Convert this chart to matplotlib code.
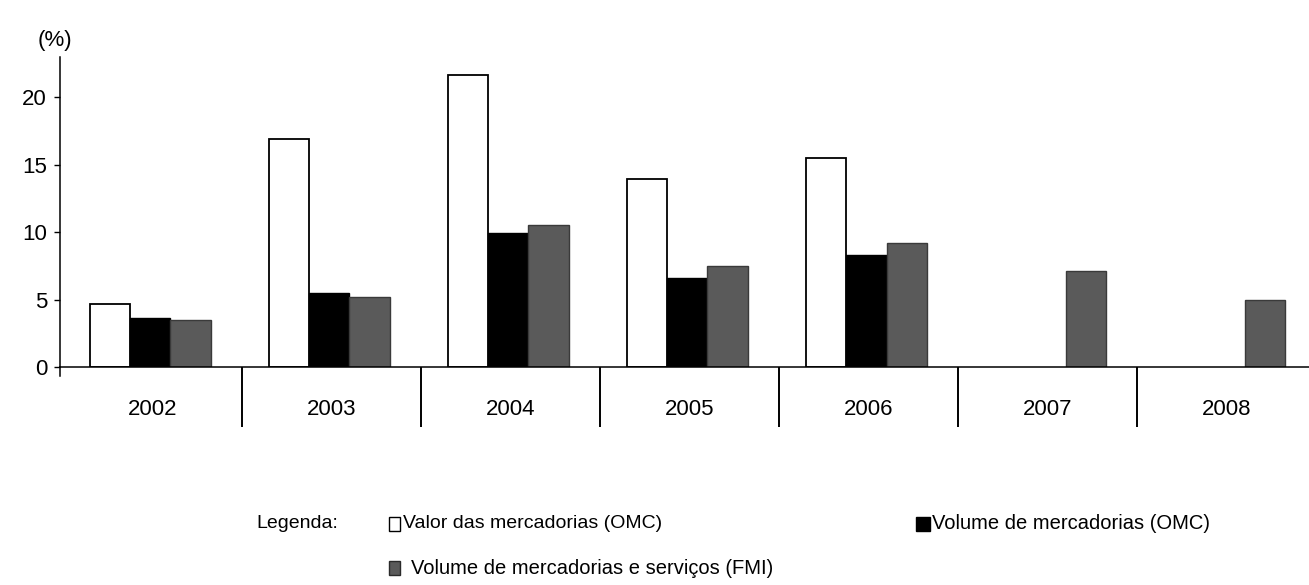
import matplotlib.pyplot as plt
from matplotlib.patches import Rectangle
import numpy as np

# Annual growth of world trade (%)
anos = ['2002', '2003', '2004', '2005', '2006', '2007', '2008']
valor_omc = [4.7, 16.9, 21.6, 13.9, 15.5, np.nan, np.nan]
volume_omc = [3.6, 5.5, 9.9, 6.6, 8.3, np.nan, np.nan]
volume_fmi = [3.5, 5.2, 10.5, 7.5, 9.2, 7.1, 5.0]

rotulos = ['Valor das mercadorias (OMC)',
           'Volume de mercadorias (OMC)',
           'Volume de mercadorias e serviços (FMI)']

plt.rcParams['font.family'] = ['Liberation Sans', 'DejaVu Sans']

fig = plt.figure(figsize=(13.09, 5.85), dpi=100)
ax = fig.add_axes([0.0458, 0.3726, 0.9542, 0.5308])

x = np.arange(len(anos))
w = 0.224
ax.bar(x - w - 0.012, valor_omc, w, color='white', edgecolor='black', linewidth=1.3)
ax.bar(x - 0.012, volume_omc, w, color='black', edgecolor='black', linewidth=1.0)
ax.bar(x + w - 0.012, volume_fmi, w, color='#5a5a5a', edgecolor='#3a3a3a', linewidth=1.0)

ax.set_xlim(-0.517, 6.46)
ax.set_ylim(0, 23)

# Axes styling
for s in ['top', 'right']:
    ax.spines[s].set_visible(False)
ax.spines['left'].set_linewidth(1.1)
ax.spines['bottom'].set_linewidth(1.1)

ax.set_yticks([0, 5, 10, 15, 20])
ax.tick_params(axis='y', direction='out', length=4.3, width=1.0,
               labelsize=16, pad=5)

# category labels on major ticks, separators as long minor ticks
ax.set_xticks(x)
ax.set_xticklabels(anos)
ax.tick_params(axis='x', which='major', length=0, labelsize=16, pad=23)
ax.set_xticks(np.arange(0.5, len(anos) - 1, 1), minor=True)
ax.tick_params(axis='x', which='minor', direction='out', length=43,
               width=1.4)

# left spine continues a bit below zero
ax.plot([-0.517, -0.517], [0, -0.7], color='black', lw=1.1, clip_on=False)

fig.text(0.029, 0.912, '(%)', fontsize=16, ha='left', va='bottom')

# Legend drawn by hand
fig.text(0.196, 0.105, 'Legenda:', fontsize=14, va='center')
sq_w, sq_h = 11 / 1309, 14 / 585
fig.patches.append(Rectangle((389 / 1309, 0.105 - sq_h / 2), sq_w, sq_h,
                             transform=fig.transFigure, facecolor='white',
                             edgecolor='black', lw=1.0))
fig.text(403 / 1309, 0.105, rotulos[0], fontsize=14, va='center')
fig.patches.append(Rectangle((916 / 1309, 0.105 - sq_h / 2), sq_w * 1.3, sq_h,
                             transform=fig.transFigure, facecolor='black',
                             edgecolor='black', lw=1.0))
fig.text(932 / 1309, 0.105, rotulos[1], fontsize=14.5, va='center')
fig.patches.append(Rectangle((389 / 1309, 0.029 - sq_h / 2), sq_w, sq_h,
                             transform=fig.transFigure, facecolor='#5a5a5a',
                             edgecolor='#2a2a2a', lw=1.0))
fig.text(411 / 1309, 0.029, rotulos[2], fontsize=14.5, va='center')

fig.savefig('out.png', dpi=100)
